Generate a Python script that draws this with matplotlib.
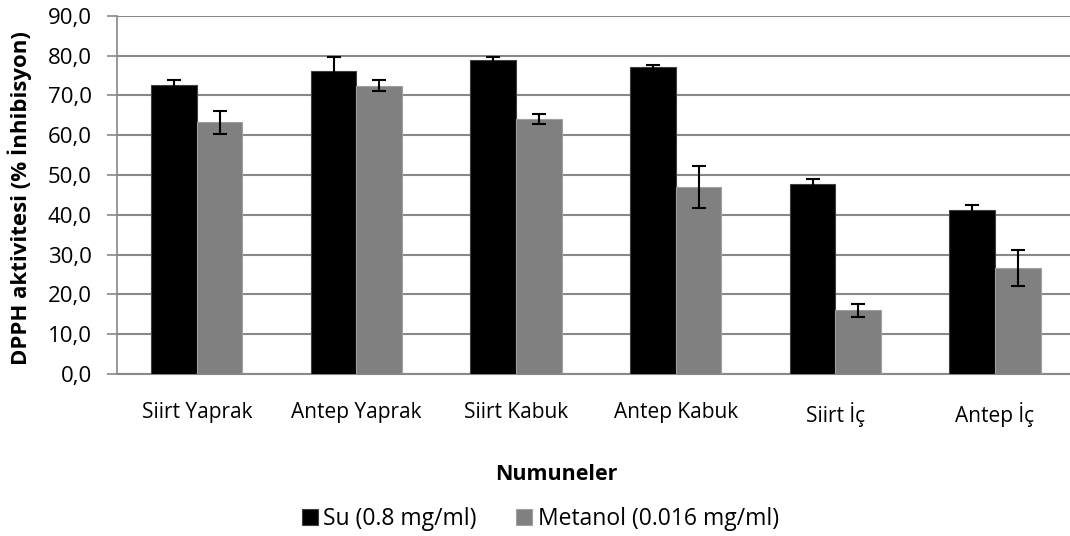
import numpy as np
import matplotlib.pyplot as plt
from matplotlib.ticker import FuncFormatter, MultipleLocator

plt.rcParams['font.family'] = ['Open Sans', 'DejaVu Sans']

categories = ["Siirt Yaprak", "Antep Yaprak", "Siirt Kabuk", "Antep Kabuk", "Siirt İç", "Antep İç"]
su = [72.6, 76.0, 78.8, 77.1, 47.7, 41.2]
su_err = [1.2, 3.7, 0.9, 0.6, 1.4, 1.3]
metanol = [63.2, 72.4, 64.0, 47.0, 16.0, 26.6]
metanol_err = [2.9, 1.4, 1.2, 5.3, 1.7, 4.5]

fig = plt.figure(figsize=(10.7, 5.36), dpi=100)
ax = fig.add_axes([0.1093, 0.3022, 0.8907, 0.6685])

x = np.arange(len(categories))
w = 0.286
err_kw = dict(ecolor='black', elinewidth=1.5, capsize=5, capthick=1.5)
ax.bar(x - w / 2, su, w, yerr=su_err, color='black', edgecolor='#404040',
       linewidth=0.8, error_kw=err_kw, label='Su (0.8 mg/ml)', zorder=3)
ax.bar(x + w / 2, metanol, w, yerr=metanol_err, color='#808080', edgecolor='#a0a0a0',
       linewidth=0.8, error_kw=err_kw, label='Metanol (0.016 mg/ml)', zorder=3)

ax.set_xlim(-0.5, 5.47)
ax.set_ylim(0, 90)
ax.yaxis.set_major_locator(MultipleLocator(10))
ax.yaxis.set_major_formatter(FuncFormatter(lambda v, p: f"{v:.1f}".replace('.', ',')))
ax.grid(axis='y', color='#888888', linewidth=1.5, zorder=0)

for s in ['top', 'right']:
    ax.spines[s].set_visible(False)
ax.spines['left'].set_color('#888888')
ax.spines['bottom'].set_color('#888888')
ax.spines['left'].set_linewidth(1.2)
ax.spines['bottom'].set_linewidth(1.5)

ax.set_xticks(x)
ax.set_xticklabels(categories)
ax.tick_params(axis='x', length=0, labelsize=15, pad=20)
ax.tick_params(axis='y', length=7, color='#888888', width=1.2, labelsize=16, pad=11)

ax.set_ylabel("DPPH aktivitesi (% İnhibisyon)", fontsize=16, fontweight='bold')
ax.yaxis.set_label_coords(-0.089, 0.49)
ax.set_xlabel("Numuneler", fontsize=15.5, fontweight='bold')
ax.xaxis.set_label_coords(0.461, -0.25)

ax.legend(loc='center', bbox_to_anchor=(0.444, -0.405), ncol=2, frameon=False,
          fontsize=16.5, handlelength=0.7, handleheight=0.7, handletextpad=0.25,
          columnspacing=1.7)

fig.savefig('out.png', dpi=100)
